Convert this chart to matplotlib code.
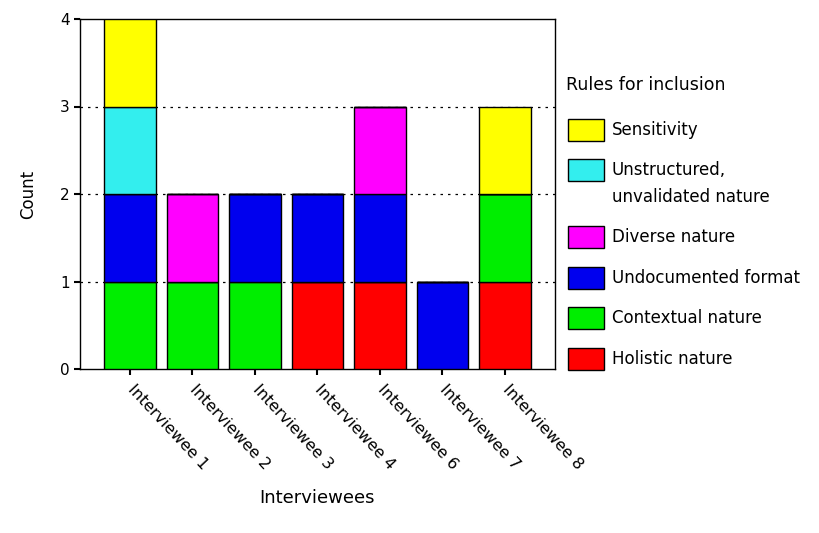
import numpy as np
import matplotlib
matplotlib.use("Agg")
import matplotlib.pyplot as plt
from matplotlib.patches import Rectangle

plt.rcParams['font.family'] = ['DejaVu Sans']

interviewees = ["Interviewee 1", "Interviewee 2", "Interviewee 3", "Interviewee 4",
                "Interviewee 6", "Interviewee 7", "Interviewee 8"]
# counts per rule, stacked bottom to top
holistic = [0, 0, 0, 1, 1, 0, 1]
contextual = [1, 1, 1, 0, 0, 0, 1]
undocumented = [1, 0, 1, 1, 1, 1, 0]
diverse = [0, 1, 0, 0, 1, 0, 0]
unstructured = [1, 0, 0, 0, 0, 0, 0]
sensitivity = [1, 0, 0, 0, 0, 0, 1]

series = [
    ("Holistic nature", holistic, "#ff0000"),
    ("Contextual nature", contextual, "#00ee00"),
    ("Undocumented format", undocumented, "#0000ee"),
    ("Diverse nature", diverse, "#ff00ff"),
    ("Unstructured,\nunvalidated nature", unstructured, "#33eeee"),
    ("Sensitivity", sensitivity, "#ffff00"),
]

W, H = 820, 533
fig = plt.figure(figsize=(W / 100, H / 100), dpi=100)
ax = fig.add_axes([80 / W, 1 - 369 / H, 475 / W, 350 / H])

x = np.arange(len(interviewees))
bottom = np.zeros(len(interviewees))
for name, vals, col in series:
    vals = np.array(vals, dtype=float)
    ax.bar(x, vals, bottom=bottom, width=0.83, color=col,
           edgecolor="black", linewidth=1.0, label=name, zorder=3)
    bottom += vals

for yv in [1, 2, 3]:
    ax.axhline(yv, color="black", linestyle=(0, (2, 4)), linewidth=0.9, zorder=1)

ax.set_xlim(-0.8, 6.8)
ax.set_ylim(0, 4)
ax.set_yticks([0, 1, 2, 3, 4])
ax.set_xticks(x)
ax.set_xticklabels(interviewees, rotation=-47, ha="left", va="center",
                   rotation_mode="anchor", fontsize=11.5)
ax.tick_params(axis="y", labelsize=11, length=4, width=1.5, direction="out")
ax.tick_params(axis="x", length=4, width=1.5, direction="out", pad=9)
for s in ax.spines.values():
    s.set_linewidth(1.0)

ax.set_ylabel("Count", fontsize=12, labelpad=16)
ax.set_xlabel("Interviewees", fontsize=13, labelpad=12)

# legend drawn by hand so the two-line entry lines up like the original
fig.text(566 / W, 1 - 85 / H, "Rules for inclusion", fontsize=12.5,
         va="center", ha="left")
centers = {"Sensitivity": 130, "Unstructured,\nunvalidated nature": 170,
           "Diverse nature": 237, "Undocumented format": 278,
           "Contextual nature": 318, "Holistic nature": 359}
for name, vals, col in series:
    cy = centers[name]
    fig.patches.append(Rectangle((568 / W, 1 - (cy + 11) / H), 36 / W, 22 / H,
                                 transform=fig.transFigure, facecolor=col,
                                 edgecolor="black", linewidth=1.0))
    lines = name.split("\n")
    for i, ln in enumerate(lines):
        fig.text(612 / W, 1 - (cy + i * 27) / H, ln, fontsize=12,
                 va="center", ha="left")

fig.savefig("out.png", dpi=100)
